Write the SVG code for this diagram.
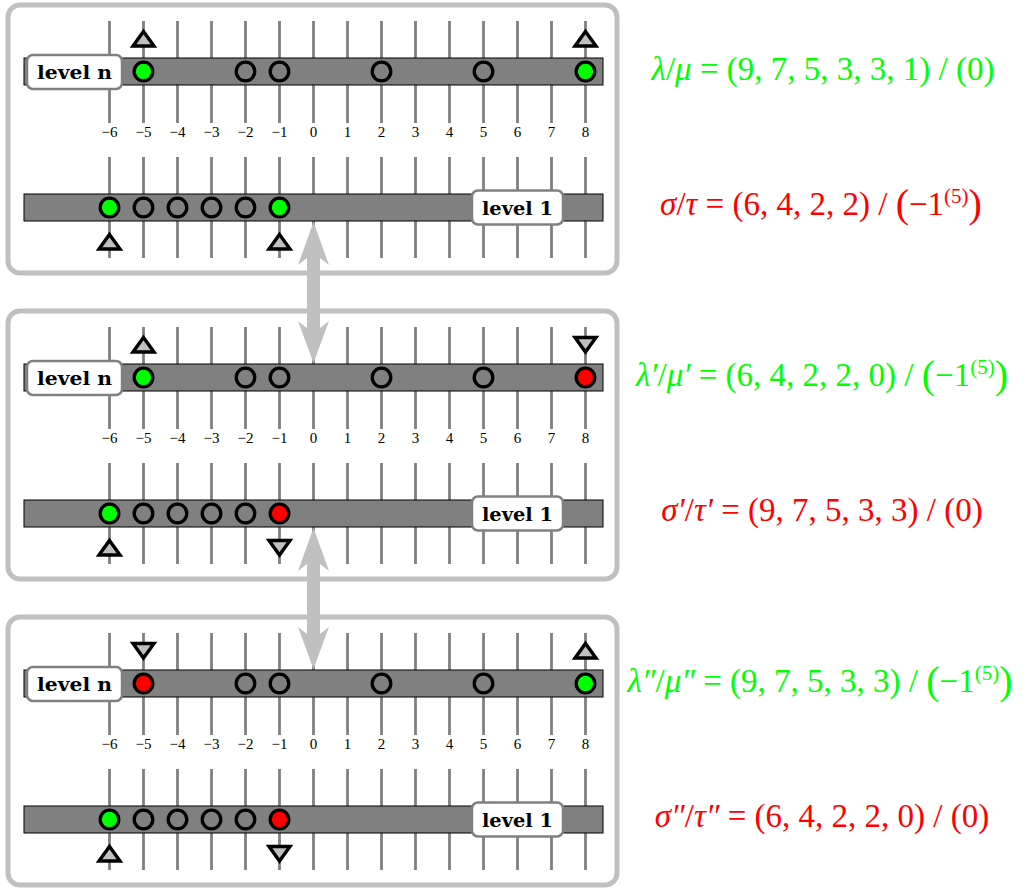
<svg xmlns="http://www.w3.org/2000/svg" xmlns:xlink="http://www.w3.org/1999/xlink" width="1029" height="888" viewBox="0 0 1029 888">
<style>
.panel{fill:#fff;stroke:#c0c0c0;stroke-width:5}
.ticks{fill:none;stroke:#808080;stroke-width:2.8}
.bar{fill:#808080;stroke:#000;stroke-width:1}
.lbox{fill:#fff;stroke:#808080;stroke-width:2.5}
.ltext{font-family:"DejaVu Serif",serif;font-weight:bold;font-size:19px;text-anchor:middle;fill:#000}
.num{font-family:"Liberation Serif",serif;font-size:15px;text-anchor:middle;fill:#000}
.c{stroke:#000;stroke-width:3.3}
.g{fill:#00ff00}.r{fill:#ff0000}.k{fill:#808080}
.tri{fill:#c0c0c0;stroke:#000;stroke-width:3.4}
.f{font-family:"Liberation Serif",serif;font-size:33px;text-anchor:middle}
.fg{fill:#00ff00}.fr{fill:#ff0000}
.arr{fill:#c0c0c0}
</style>
<defs>
<path id="up" class="tri" d="M0,-7 L10.5,7.5 L-10.5,7.5 Z"/>
<path id="dn" class="tri" d="M0,7.5 L10.5,-7 L-10.5,-7 Z"/>
<g id="base">
<path class="ticks" d="M109.5,21V123M143.5,21V123M177.5,21V123M211.5,21V123M245.5,21V123M279.5,21V123M313.5,21V123M347.5,21V123M381.5,21V123M415.5,21V123M449.5,21V123M483.5,21V123M517.5,21V123M551.5,21V123M585.5,21V123M109.5,157V258M143.5,157V258M177.5,157V258M211.5,157V258M245.5,157V258M279.5,157V258M313.5,157V258M347.5,157V258M381.5,157V258M415.5,157V258M449.5,157V258M483.5,157V258M517.5,157V258M551.5,157V258M585.5,157V258"/>
<rect class="bar" x="24" y="58" width="579" height="27"/>
<rect class="bar" x="24" y="194" width="579" height="27"/>
<g class="num">
<text x="109.5" y="137">−6</text><text x="143.5" y="137">−5</text><text x="177.5" y="137">−4</text><text x="211.5" y="137">−3</text><text x="245.5" y="137">−2</text><text x="279.5" y="137">−1</text><text x="313.5" y="137">0</text><text x="347.5" y="137">1</text><text x="381.5" y="137">2</text><text x="415.5" y="137">3</text><text x="449.5" y="137">4</text><text x="483.5" y="137">5</text><text x="517.5" y="137">6</text><text x="551.5" y="137">7</text><text x="585.5" y="137">8</text>
</g>
<rect class="lbox" x="27" y="55" width="95" height="34" rx="6"/>
<text class="ltext" x="74.5" y="79" textLength="75" lengthAdjust="spacingAndGlyphs">level n</text>
<rect class="lbox" x="472" y="190.5" width="91" height="34" rx="6"/>
<text class="ltext" x="517.5" y="215" textLength="71" lengthAdjust="spacingAndGlyphs">level 1</text>
<circle class="c k" cx="245.5" cy="71.5" r="9.3"/><circle class="c k" cx="279.5" cy="71.5" r="9.3"/><circle class="c k" cx="381.5" cy="71.5" r="9.3"/><circle class="c k" cx="483.5" cy="71.5" r="9.3"/>
<circle class="c k" cx="143.5" cy="207.5" r="9.3"/><circle class="c k" cx="177.5" cy="207.5" r="9.3"/><circle class="c k" cx="211.5" cy="207.5" r="9.3"/><circle class="c k" cx="245.5" cy="207.5" r="9.3"/>
<circle class="c g" cx="109.5" cy="207.5" r="9.3"/>
<use xlink:href="#up" x="109.5" y="241.5"/>
</g>
</defs>

<g id="panel1">
<rect class="panel" x="8" y="5" width="609" height="268" rx="12"/>
<use xlink:href="#base"/>
<circle class="c g" cx="143.5" cy="71.5" r="9.3"/>
<circle class="c g" cx="585.5" cy="71.5" r="9.3"/>
<circle class="c g" cx="279.5" cy="207.5" r="9.3"/>
<use xlink:href="#up" x="143.5" y="38.5"/>
<use xlink:href="#up" x="585.5" y="38.5"/>
<use xlink:href="#up" x="279.5" y="241.5"/>
</g>

<g id="panel2" transform="translate(0,306)">
<rect class="panel" x="8" y="5" width="609" height="268" rx="12"/>
<use xlink:href="#base"/>
<circle class="c g" cx="143.5" cy="71.5" r="9.3"/>
<circle class="c r" cx="585.5" cy="71.5" r="9.3"/>
<circle class="c r" cx="279.5" cy="207.5" r="9.3"/>
<use xlink:href="#up" x="143.5" y="38.5"/>
<use xlink:href="#dn" x="585.5" y="38.5"/>
<use xlink:href="#dn" x="279.5" y="241.5"/>
</g>

<g id="panel3" transform="translate(0,612)">
<rect class="panel" x="8" y="5" width="609" height="268" rx="12"/>
<use xlink:href="#base"/>
<circle class="c r" cx="143.5" cy="71.5" r="9.3"/>
<circle class="c g" cx="585.5" cy="71.5" r="9.3"/>
<circle class="c r" cx="279.5" cy="207.5" r="9.3"/>
<use xlink:href="#dn" x="143.5" y="38.5"/>
<use xlink:href="#up" x="585.5" y="38.5"/>
<use xlink:href="#dn" x="279.5" y="241.5"/>
</g>

<g id="connectors">
<path class="arr" d="M313.5,222 L329,265 L320,258 L320,328 L329,321 L313.5,363 L298,321 L307,328 L307,258 L298,265 Z"/>
<path class="arr" transform="translate(0,306)" d="M313.5,222 L329,265 L320,258 L320,328 L329,321 L313.5,363 L298,321 L307,328 L307,258 L298,265 Z"/>
</g>

<g id="formula1"><text class="f fg" x="823" y="80"><tspan font-style="italic">λ</tspan>/<tspan font-style="italic">μ</tspan> = (9, 7, 5, 3, 3, 1) / (0)</text></g>
<g id="formula2"><text class="f fr" x="821" y="215"><tspan font-style="italic">σ</tspan>/<tspan font-style="italic">τ</tspan> = (6, 4, 2, 2) / <tspan font-size="40" dy="2">(</tspan><tspan dy="-2">−1</tspan><tspan font-size="21" dy="-12">(5)</tspan><tspan font-size="40" dy="14">)</tspan></text></g>
<g id="formula3"><text class="f fg" x="822" y="386"><tspan font-style="italic">λ′</tspan>/<tspan font-style="italic">μ′</tspan> = (6, 4, 2, 2, 0) / <tspan font-size="40" dy="2">(</tspan><tspan dy="-2">−1</tspan><tspan font-size="21" dy="-12">(5)</tspan><tspan font-size="40" dy="14">)</tspan></text></g>
<g id="formula4"><text class="f fr" x="822" y="521"><tspan font-style="italic">σ′</tspan>/<tspan font-style="italic">τ′</tspan> = (9, 7, 5, 3, 3) / (0)</text></g>
<g id="formula5"><text class="f fg" x="820" y="692"><tspan font-style="italic">λ″</tspan>/<tspan font-style="italic">μ″</tspan> = (9, 7, 5, 3, 3) / <tspan font-size="40" dy="2">(</tspan><tspan dy="-2">−1</tspan><tspan font-size="21" dy="-12">(5)</tspan><tspan font-size="40" dy="14">)</tspan></text></g>
<g id="formula6"><text class="f fr" x="822" y="827"><tspan font-style="italic">σ″</tspan>/<tspan font-style="italic">τ″</tspan> = (6, 4, 2, 2, 0) / (0)</text></g>
</svg>
